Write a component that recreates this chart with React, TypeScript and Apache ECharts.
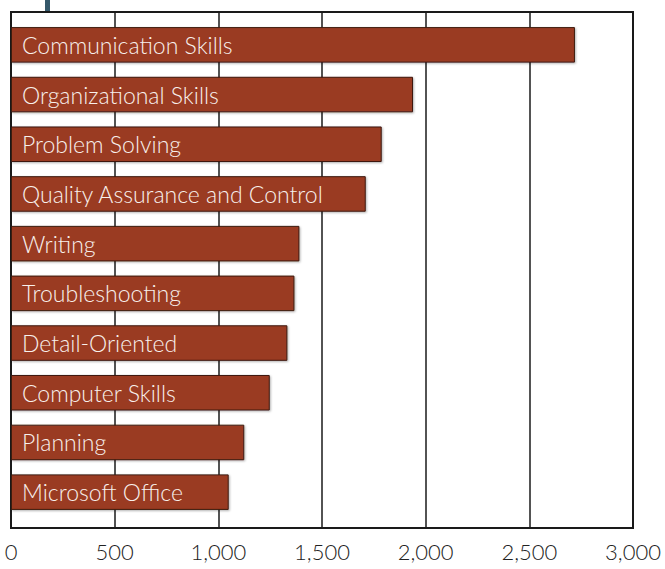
import React, { useEffect, useRef } from "react";
import * as echarts from "echarts";

const skills = [
  "Communication Skills",
  "Organizational Skills",
  "Problem Solving",
  "Quality Assurance and Control",
  "Writing",
  "Troubleshooting",
  "Detail-Oriented",
  "Computer Skills",
  "Planning",
  "Microsoft Office",
];
const counts = [2720, 1939, 1788, 1711, 1391, 1367, 1333, 1248, 1125, 1050];
const tickValues = [0, 500, 1000, 1500, 2000, 2500, 3000];

export default function App() {
  const ref = useRef<HTMLDivElement>(null);
  useEffect(() => {
    if (!ref.current) return;
    const chart = echarts.init(ref.current, undefined, { renderer: "svg" });
    const font = "Lato, 'Noto Sans', sans-serif";
    const xMin = tickValues[0];
    const xMax = tickValues[tickValues.length - 1];
    chart.setOption({
      animation: false,
      graphic: [
        {
          type: "rect",
          shape: { x: 45, y: 0, width: 5, height: 11 },
          style: { fill: "#35586a" },
          z: 10,
        },
      ],
      grid: [
        {
          left: 11,
          right: 32,
          top: 12,
          bottom: 41,
          show: true,
          borderColor: "#1a1a1a",
          borderWidth: 2,
          backgroundColor: "#fff",
        },
        {
          left: 11,
          right: 32,
          top: 20,
          bottom: 52,
        },
      ],
      xAxis: [
        {
          type: "value",
          gridIndex: 0,
          min: xMin,
          max: xMax,
          interval: 500,
          axisLine: { show: true, lineStyle: { color: "#1a1a1a", width: 2 } },
          axisTick: { show: false },
          splitLine: { show: true, lineStyle: { color: "#1a1a1a", width: 1.5 } },
          axisLabel: {
            fontSize: 22,
            fontWeight: 300,
            color: "#222",
            fontFamily: font,
            margin: 12,
            formatter: (v: number) => v.toLocaleString("en-US"),
          },
        },
        {
          type: "value",
          gridIndex: 1,
          min: xMin,
          max: xMax,
          show: false,
        },
      ],
      yAxis: [
        {
          type: "category",
          gridIndex: 0,
          data: [""],
          axisLine: { show: true, lineStyle: { color: "#1a1a1a", width: 2 } },
          axisTick: { show: false },
          axisLabel: { show: false },
          splitLine: { show: false },
        },
        {
          type: "category",
          gridIndex: 1,
          data: skills,
          inverse: true,
          show: false,
        },
      ],
      series: [
        {
          type: "bar",
          xAxisIndex: 1,
          yAxisIndex: 1,
          data: counts,
          barWidth: "71.5%",
          itemStyle: {
            color: "#9a3a22",
            borderColor: "#3d1a10",
            borderWidth: 1,
            shadowColor: "rgba(0,0,0,0.3)",
            shadowBlur: 2,
            shadowOffsetX: 1,
            shadowOffsetY: 1,
          },
          label: {
            show: true,
            position: "insideLeft",
            distance: 11,
            formatter: (p: any) => p.name,
            color: "#f8f0ec",
            fontSize: 23,
            fontWeight: 300,
            fontFamily: font,
          },
        },
      ],
    });
    return () => chart.dispose();
  }, []);
  return <div ref={ref} style={{ width: 665, height: 569, position: "absolute", left: 0, top: 0 }} />;
}
